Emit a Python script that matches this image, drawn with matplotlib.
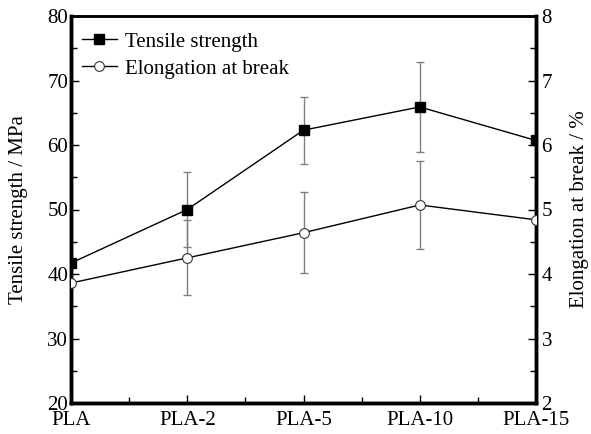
import numpy as np
import matplotlib.pyplot as plt
from matplotlib.ticker import MultipleLocator
from matplotlib.lines import Line2D

plt.rcParams['font.family'] = ['Liberation Serif', 'DejaVu Serif']

# Datos
muestras = ["PLA", "PLA-2", "PLA-5", "PLA-10", "PLA-15"]
resistencia = [41.7, 50.0, 62.3, 65.9, 60.7]
resistencia_err = [0.0, 5.8, 5.2, 7.0, 0.0]
elongacion = [3.86, 4.25, 4.64, 5.07, 4.84]
elongacion_err = [0.0, 0.58, 0.63, 0.68, 0.0]

x = np.arange(len(muestras))

fig = plt.figure(figsize=(5.91, 4.34), dpi=100)
ax = fig.add_axes([71 / 591, 1 - 403 / 434, (536 - 71) / 591, (403 - 16) / 434])
ax2 = ax.twinx()

# Barras de error en gris, detrás de las líneas
ax.errorbar(x, resistencia, yerr=resistencia_err, fmt="none",
            ecolor="#808080", elinewidth=1, capsize=3, capthick=1, zorder=1)
ax2.errorbar(x, elongacion, yerr=elongacion_err, fmt="none",
             ecolor="#808080", elinewidth=1, capsize=3, capthick=1, zorder=1)

# Resistencia a la tracción
ax.plot(x, resistencia, color="black", lw=1, marker="s", ms=6.5,
        mfc="black", mec="black", zorder=3)

# Elongación a rotura
ax2.plot(x, elongacion, color="black", lw=1, marker="o", ms=7,
         mfc="white", mec="#333333", mew=0.8, zorder=3)

ax.set_xlim(0, 4)
ax.set_ylim(20, 80)
ax2.set_ylim(2, 8)
ax.set_xticks(x)
ax.set_xticklabels(muestras)
ax.xaxis.set_minor_locator(MultipleLocator(0.5))
ax.yaxis.set_major_locator(MultipleLocator(10))
ax.yaxis.set_minor_locator(MultipleLocator(5))
ax2.yaxis.set_major_locator(MultipleLocator(1))
ax2.yaxis.set_minor_locator(MultipleLocator(0.5))

ax.tick_params(axis="x", which="both", direction="in", top=False, labelsize=15, pad=6)
ax.tick_params(axis="x", which="major", length=6, width=1)
ax.tick_params(axis="x", which="minor", length=4, width=1)
ax.tick_params(axis="y", which="both", direction="in", right=False, labelsize=15, pad=2)
ax.tick_params(axis="y", which="major", length=6, width=1)
ax.tick_params(axis="y", which="minor", length=4, width=1)
ax2.tick_params(axis="y", which="both", direction="in", labelsize=15, pad=4)
ax2.tick_params(axis="y", which="major", length=6, width=1)
ax2.tick_params(axis="y", which="minor", length=4, width=1)

for a in (ax, ax2):
    for lado in ("left", "right", "bottom"):
        a.spines[lado].set_linewidth(2.5)
    a.spines["top"].set_linewidth(1.8)

ax.set_ylabel("Tensile strength / MPa", fontsize=15, labelpad=14)
ax2.set_ylabel("Elongation at break / %", fontsize=15, labelpad=13)

# Leyenda sin barras de error
h1 = Line2D([], [], color="black", lw=1, marker="s", ms=6.5, mfc="black", mec="black")
h2 = Line2D([], [], color="black", lw=1, marker="o", ms=7, mfc="white", mec="#333333", mew=0.8)
ax2.legend([h1, h2], ["Tensile strength", "Elongation at break"], loc="upper left",
           frameon=False, fontsize=15, handlelength=1.7, handletextpad=0.4,
           borderaxespad=0.0, labelspacing=0.35, bbox_to_anchor=(0.005, 0.98))

fig.savefig("out.png", dpi=100)
